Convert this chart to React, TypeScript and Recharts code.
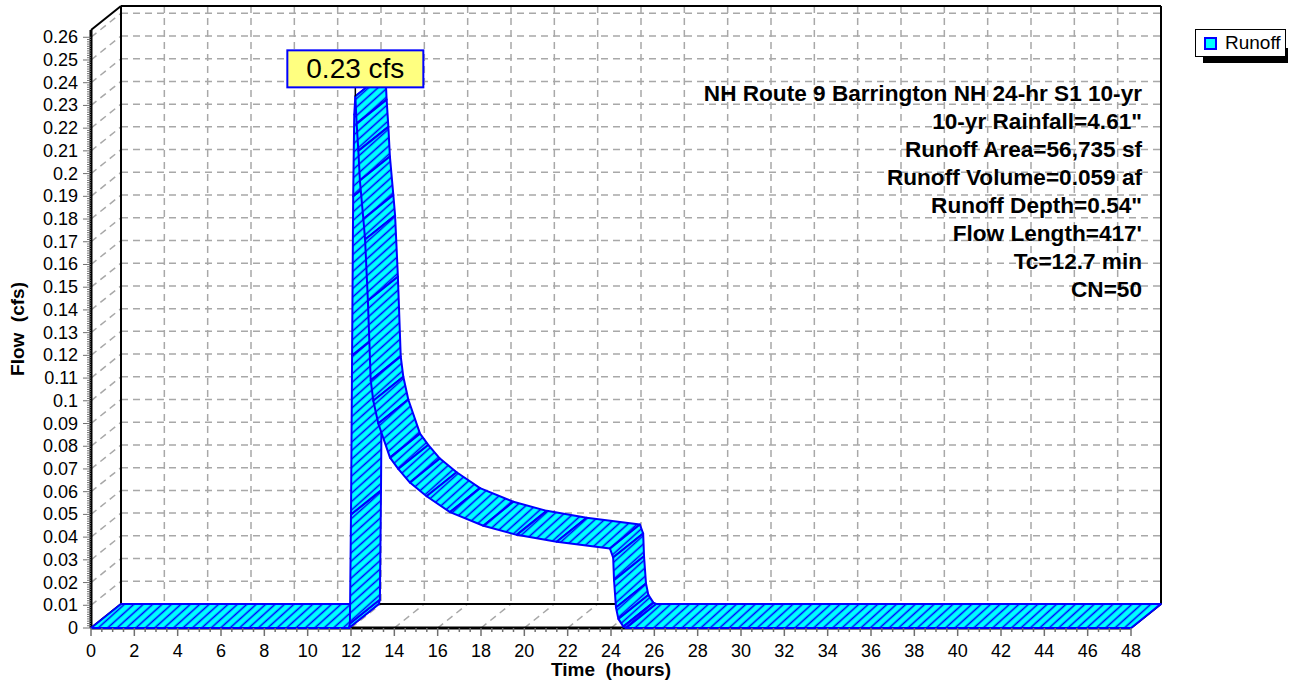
import {
  CartesianGrid,
  ComposedChart,
  Legend,
  Line,
  ReferenceArea,
  XAxis,
  YAxis,
} from 'recharts';

const FONT = '"Liberation Sans", Arial, sans-serif';
// depth of the 3D box, in pixels
const DX = 30;
const DY = -24;
const Y_MAX = 0.2632;

// hydrograph (front edge of the ribbon)
const hours = [
  0, 11.9, 11.95, 12.0, 12.05, 12.1, 12.15, 12.2, 12.26, 12.34, 12.41, 12.57,
  12.65, 12.78, 12.91, 13.03, 13.26, 13.8, 14.18, 14.72, 15.49, 16.57, 18.11,
  19.65, 21.49, 23.95, 24.1, 24.14, 24.23, 24.34, 24.57, 24.7, 48,
];
const flowCfs = [
  0, 0, 0.002, 0.05, 0.12, 0.19, 0.226, 0.234, 0.222, 0.21, 0.197, 0.18, 0.171,
  0.144, 0.109, 0.1, 0.09, 0.075, 0.07, 0.064, 0.058, 0.051, 0.045, 0.041,
  0.038, 0.035, 0.031, 0.021, 0.009, 0.004, 0.0006, 0, 0,
];

const xTicks = [
  0, 2, 4, 6, 8, 10, 12, 14, 16, 18, 20, 22, 24, 26, 28, 30, 32, 34, 36, 38, 40,
  42, 44, 46, 48,
];
const yTicks = [
  0, 0.01, 0.02, 0.03, 0.04, 0.05, 0.06, 0.07, 0.08, 0.09, 0.1, 0.11, 0.12,
  0.13, 0.14, 0.15, 0.16, 0.17, 0.18, 0.19, 0.2, 0.21, 0.22, 0.23, 0.24, 0.25,
  0.26,
];

const notes = [
  'NH Route 9 Barrington NH 24-hr S1 10-yr',
  '10-yr Rainfall=4.61"',
  'Runoff Area=56,735 sf',
  'Runoff Volume=0.059 af',
  'Runoff Depth=0.54"',
  "Flow Length=417'",
  'Tc=12.7 min',
  'CN=50',
];
const seriesName = 'Runoff';

const data = hours.map((t, i) => ({ t, q: flowCfs[i] }));
// ruler ticks between the labelled ones
const xMinor = Array.from({ length: 97 }, (_, i) => i * 0.5);
const yMinor = Array.from({ length: 261 }, (_, i) => i / 1000);

const fmt = (v: number) => String(parseFloat(v.toFixed(2)));

const gridLine = {
  stroke: '#a8a8a8',
  strokeWidth: 1.5,
  strokeDasharray: '7 5',
};
const edge = { stroke: '#000', strokeWidth: 2 };

function XTick({ x, y, payload }: any) {
  const v = payload.value;
  const major = Math.abs(v % 2) < 1e-6;
  return (
    <g>
      <line x1={x} y1={y} x2={x} y2={y + (major ? 8 : 4)} stroke="#707070" strokeWidth={1.5} />
      {major && (
        <text x={x} y={y + 23} textAnchor="middle" dominantBaseline="central" fontSize={18} fontFamily={FONT} fill="#000">
          {v}
        </text>
      )}
    </g>
  );
}

function YTick({ x, y, payload }: any) {
  const v = payload.value;
  const major = Math.round(v * 1000) % 10 === 0;
  return (
    <g>
      <line x1={x - (major ? 8 : 4)} y1={y} x2={x} y2={y} stroke="#707070" strokeWidth={1} />
      {major && (
        <text x={x - 13} y={y} textAnchor="end" dominantBaseline="central" fontSize={18} fontFamily={FONT} fill="#000">
          {fmt(v)}
        </text>
      )}
    </g>
  );
}

function XTitle({ viewBox }: any) {
  return (
    <text x={viewBox.x + viewBox.width / 2} y={viewBox.y + 41} textAnchor="middle" dominantBaseline="central" fontSize={19} fontWeight="bold" fontFamily={FONT} style={{ whiteSpace: 'pre' }}>
      Time  (hours)
    </text>
  );
}

function YTitle({ viewBox }: any) {
  const cx = viewBox.x + 17;
  const cy = viewBox.y + viewBox.height / 2;
  return (
    <text x={cx} y={cy} transform={`rotate(-90 ${cx} ${cy})`} textAnchor="middle" dominantBaseline="central" fontSize={19} fontWeight="bold" fontFamily={FONT} style={{ whiteSpace: 'pre' }}>
      Flow  (cfs)
    </text>
  );
}

// back wall + left wall dashes
function HGrid(p: any) {
  const { x1, x2, y1 } = p;
  return (
    <g key={p.key}>
      <line x1={x1} y1={y1} x2={x1 + DX} y2={y1 + DY} {...gridLine} />
      <line x1={x1 + DX} y1={y1 + DY} x2={x2 + DX} y2={y1 + DY} {...gridLine} />
    </g>
  );
}

// back wall + floor dashes
function VGrid(p: any) {
  const { x1, y1, y2 } = p;
  return (
    <g key={p.key}>
      <line x1={x1} y1={y2} x2={x1 + DX} y2={y2 + DY} {...gridLine} />
      <line x1={x1 + DX} y1={y1 + DY} x2={x1 + DX} y2={y2 + DY} {...gridLine} />
    </g>
  );
}

function Frame({ x, y, width, height }: any) {
  const l = x;
  const r = x + width;
  const t = y;
  const b = y + height;
  return (
    <g>
      <line x1={l + DX} y1={t + DY} x2={r + DX} y2={t + DY} {...edge} />
      <line x1={l + DX} y1={t + DY} x2={l + DX} y2={b + DY} {...edge} />
      <line x1={r + DX} y1={t + DY} x2={r + DX} y2={b + DY} {...edge} />
      <line x1={l + DX} y1={b + DY} x2={r + DX} y2={b + DY} {...edge} />
      <line x1={l} y1={t} x2={l + DX} y2={t + DY} {...edge} />
      <line x1={l} y1={b} x2={l + DX} y2={b + DY} {...edge} />
      <line x1={r} y1={b} x2={r + DX} y2={b + DY} {...edge} />
      <line x1={l} y1={t} x2={l} y2={b} stroke="#000" strokeWidth={3} />
      <line x1={l} y1={b} x2={r} y2={b} stroke="#000" strokeWidth={3} />
      {notes.map((s, i) => (
        <text key={i} x={r + 11} y={t + 63 + i * 28} textAnchor="end" dominantBaseline="central" fontSize={22.6} fontWeight="bold" fontFamily={FONT} fill="#000">
          {s}
        </text>
      ))}
    </g>
  );
}

// draws the whole 3D ribbon once, from the line's computed points
function Ribbon(props: any) {
  const { index, points } = props;
  if (index !== 0 || !points) return null;
  const segs = [];
  for (let i = 0; i < points.length - 1; i++) {
    const a = points[i];
    const b = points[i + 1];
    const d = `M${a.x},${a.y}L${b.x},${b.y}L${b.x + DX},${b.y + DY}L${a.x + DX},${a.y + DY}Z`;
    segs.push(
      <g key={i}>
        <path d={d} fill="#00FFFF" />
        <path d={d} fill="url(#runoffHatch)" stroke="#0000FF" strokeWidth={2} strokeLinejoin="round" />
      </g>
    );
  }
  let pk = 0;
  points.forEach((p: any, i: number) => {
    if (p.payload.q > points[pk].payload.q) pk = i;
  });
  const peak = points[pk];
  return (
    <g>
      <defs>
        <pattern id="runoffHatch" patternUnits="userSpaceOnUse" width={12} height={6.3} patternTransform="rotate(-42)">
          <line x1={-1} y1={3.15} x2={13} y2={3.15} stroke="#0000FF" strokeWidth={1.5} />
        </pattern>
      </defs>
      {segs}
      <line x1={peak.x} y1={peak.y - 9} x2={peak.x} y2={peak.y} stroke="#000" strokeWidth={1.5} />
      <rect x={peak.x - 68} y={peak.y - 46} width={136} height={37} fill="#FFFF80" stroke="#0000FF" strokeWidth={2} />
      <text x={peak.x} y={peak.y - 27.5} textAnchor="middle" dominantBaseline="central" fontSize={28} fontFamily={FONT} fill="#000">
        {peak.payload.q.toFixed(2)} cfs
      </text>
    </g>
  );
}

function LegendBox({ payload }: any) {
  const name = payload?.[0]?.value ?? seriesName;
  return (
    <div style={{ position: 'relative', width: 95, height: 36 }}>
      <div style={{ position: 'absolute', left: 8, top: 19, width: 85, height: 15, background: '#000' }} />
      <div
        style={{
          position: 'absolute',
          left: 0,
          top: 0,
          width: 89,
          height: 26,
          background: '#fff',
          border: '1px solid #000',
          display: 'flex',
          alignItems: 'center',
          fontFamily: FONT,
          fontSize: 19,
          color: '#000',
        }}
      >
        <span style={{ display: 'inline-block', width: 9, height: 9, background: '#00FFFF', border: '2px solid #0000FF', marginLeft: 8, marginRight: 8 }} />
        {name}
      </div>
    </div>
  );
}

export default function App() {
  return (
    <div style={{ position: 'absolute', left: 0, top: 0, background: '#fff' }}>
      <ComposedChart width={1294} height={686} data={data} margin={{ top: 30, right: 163, bottom: 0, left: 0 }}>
        <CartesianGrid horizontalValues={yTicks} verticalValues={xTicks} horizontal={HGrid} vertical={VGrid} />
        <ReferenceArea x1={0} x2={48} y1={0} y2={Y_MAX} shape={Frame} ifOverflow="visible" />
        <XAxis
          dataKey="t"
          type="number"
          domain={[0, 48]}
          ticks={xMinor}
          interval={0}
          tick={XTick}
          tickLine={false}
          axisLine={false}
          tickSize={0}
          tickMargin={0}
          height={58}
          label={<XTitle />}
        />
        <YAxis
          type="number"
          domain={[0, Y_MAX]}
          ticks={yMinor}
          interval={0}
          tick={YTick}
          tickLine={false}
          axisLine={false}
          tickSize={0}
          tickMargin={0}
          width={91}
          label={<YTitle />}
        />
        <Line
          dataKey="q"
          name={seriesName}
          stroke="none"
          dot={Ribbon}
          activeDot={false}
          isAnimationActive={false}
        />
        <Legend
          content={LegendBox}
          layout="horizontal"
          align="center"
          verticalAlign="middle"
          wrapperStyle={{ left: 1195, top: 29, width: 100, height: 40 }}
        />
      </ComposedChart>
    </div>
  );
}
